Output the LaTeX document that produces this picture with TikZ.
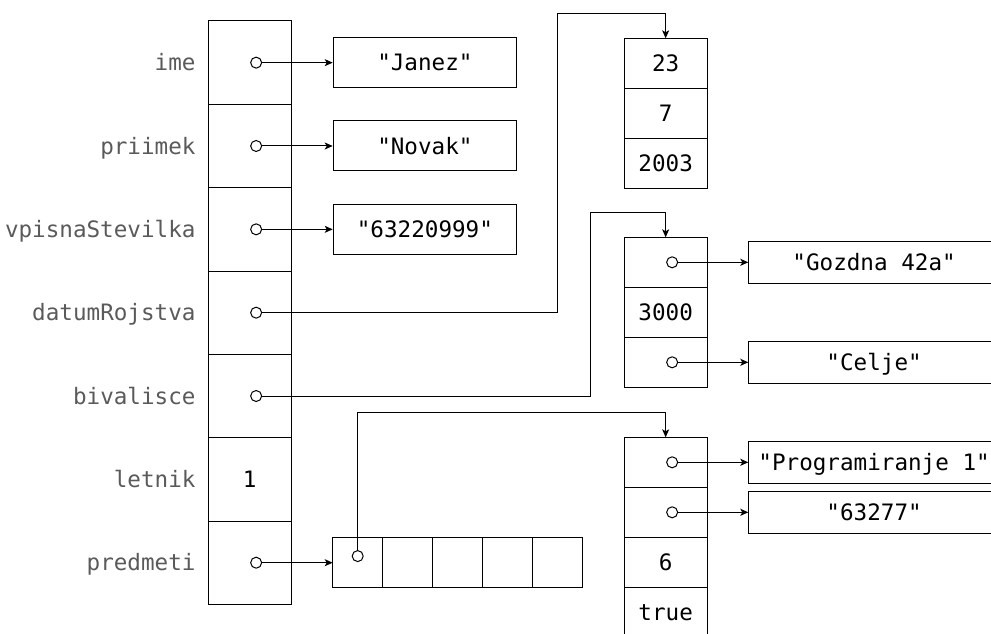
\documentclass[tikz,border=0pt]{standalone}
\usepackage{fontspec}
\usepackage{xcolor}
\usepackage{tikz}
\usetikzlibrary{positioning, arrows.meta}
\newfontfamily\codefont{DejaVu Sans Mono}
\definecolor{fieldgray}{RGB}{90,90,90}

\begin{document}
\begin{tikzpicture}[
    x=0.5pt, y=-0.5pt,
    line width=0.5pt,
    >={Stealth[length=4pt, width=3.5pt, inset=1pt]},
    font=\codefont\fontsize{11.3}{13.5}\selectfont,
    txt/.style={text height=9.5pt, text depth=1.2pt},
    field/.style={rectangle, draw, txt, minimum width=41.65pt, minimum height=41.67pt, outer sep=0pt, inner sep=0pt},
    fieldname/.style={txt, text=fieldgray, inner sep=0pt},
    rec/.style={rectangle, draw, txt, minimum width=41.65pt, minimum height=25pt, outer sep=0pt, inner sep=0pt},
    elem/.style={rectangle, draw, minimum size=25pt, outer sep=0pt, inner sep=0pt},
    strbox/.style={rectangle, draw, txt, minimum width=91.7pt, minimum height=25pt, inner sep=0pt},
    longstr/.style={strbox, minimum width=125.3pt, minimum height=20.8pt},
    ref/.style={circle, draw, fill=white, minimum size=5.5pt, inner sep=0pt},
    link/.style={->}
]

\clip (0,0) rectangle (991,633);

% Student object
\node[field] (ime) at (249.65,62.65) {};
\node[field, below=0pt of ime] (priimek) {};
\node[field, below=0pt of priimek] (vpisna) {};
\node[field, below=0pt of vpisna] (datum) {};
\node[field, below=0pt of datum] (bivalisce) {};
\node[field, below=0pt of bivalisce] (letnik) {1};
\node[field, below=0pt of letnik] (predmeti) {};

% Field names
\node[fieldname, left=6pt of ime] (imeL) {ime};
\node[fieldname, left=6pt of priimek] (priimekL) {priimek};
\node[fieldname, left=6pt of vpisna] (vpisnaL) {vpisnaStevilka};
\node[fieldname, left=6pt of datum] (datumL) {datumRojstva};
\node[fieldname, left=6pt of bivalisce] (bivalisceL) {bivalisce};
\node[fieldname, left=6pt of letnik] (letnikL) {letnik};
\node[fieldname, left=6pt of predmeti] (predmetiL) {predmeti};

% References
\node[ref] (imeR) at ([xshift=3.25pt]ime.center) {};
\node[ref] (priimekR) at ([xshift=3.25pt]priimek.center) {};
\node[ref] (vpisnaR) at ([xshift=3.25pt]vpisna.center) {};
\node[ref] (datumR) at ([xshift=3.25pt]datum.center) {};
\node[ref] (bivalisceR) at ([xshift=3.25pt]bivalisce.center) {};
\node[ref] (predmetiR) at ([xshift=3.25pt]predmeti.center) {};

% Strings
\node[strbox, right=20.7pt of ime] (janez) {"Janez"};
\node[strbox, right=20.7pt of priimek] (novak) {"Novak"};
\node[strbox, right=20.7pt of vpisna] (stevilka) {"63220999"};

% Datum object
\node[rec] (dan) at (665.65,63.3) {23};
\node[rec, below=0pt of dan] (mesec) {7};
\node[rec, below=0pt of mesec] (leto) {2003};

% Naslov object
\node[rec] (ulica) at (665.65,262.3) {};
\node[rec, below=0pt of ulica] (posta) {3000};
\node[rec, below=0pt of posta] (kraj) {};
\node[ref] (ulicaR) at ([xshift=3.25pt]ulica.center) {};
\node[ref] (krajR) at ([xshift=3.25pt]kraj.center) {};
\node[longstr, right=20.5pt of ulica] (gozdna) {"Gozdna 42a"};
\node[longstr, right=20.5pt of kraj] (celje) {"Celje"};

% Array of predmeti
\node[elem, right=20.7pt of predmeti] (e1) {};
\node[elem, right=0pt of e1] (e2) {};
\node[elem, right=0pt of e2] (e3) {};
\node[elem, right=0pt of e3] (e4) {};
\node[elem, right=0pt of e4] (e5) {};
\node[ref] (e1R) at ([yshift=3.3pt]e1.center) {};

% Predmet object
\node[rec] (naziv) at (665.65,462.3) {};
\node[rec, below=0pt of naziv] (sifra) {};
\node[rec, below=0pt of sifra] (kreditne) {6};
\node[rec, below=0pt of kreditne] (obvezen) {true};
\node[ref] (nazivR) at ([xshift=3.25pt]naziv.center) {};
\node[ref] (sifraR) at ([xshift=3.25pt]sifra.center) {};
\node[longstr, right=20.5pt of naziv] (prog) {"Programiranje 1"};
\node[longstr, right=20.5pt of sifra] (koda) {"63277"};

% Bends
\coordinate (datumK) at (557.7,13.3);
\coordinate (bivalisceK) at (590,212.7);
\coordinate (predmetiK) at (357.7,412.3);

% Arrows
\draw[link] (imeR) -- (janez);
\draw[link] (priimekR) -- (novak);
\draw[link] (vpisnaR) -- (stevilka);
\draw[link] (datumR) -| (datumK) -| (dan.north);
\draw[link] (bivalisceR) -| (bivalisceK) -| (ulica.north);
\draw[link] (predmetiR) -- (e1);
\draw[link] (ulicaR) -- (gozdna);
\draw[link] (krajR) -- (celje);
\draw[link] (e1R) -- (predmetiK) -| (naziv.north);
\draw[link] (nazivR) -- (prog);
\draw[link] (sifraR) -- (koda);

\end{tikzpicture}
\end{document}
